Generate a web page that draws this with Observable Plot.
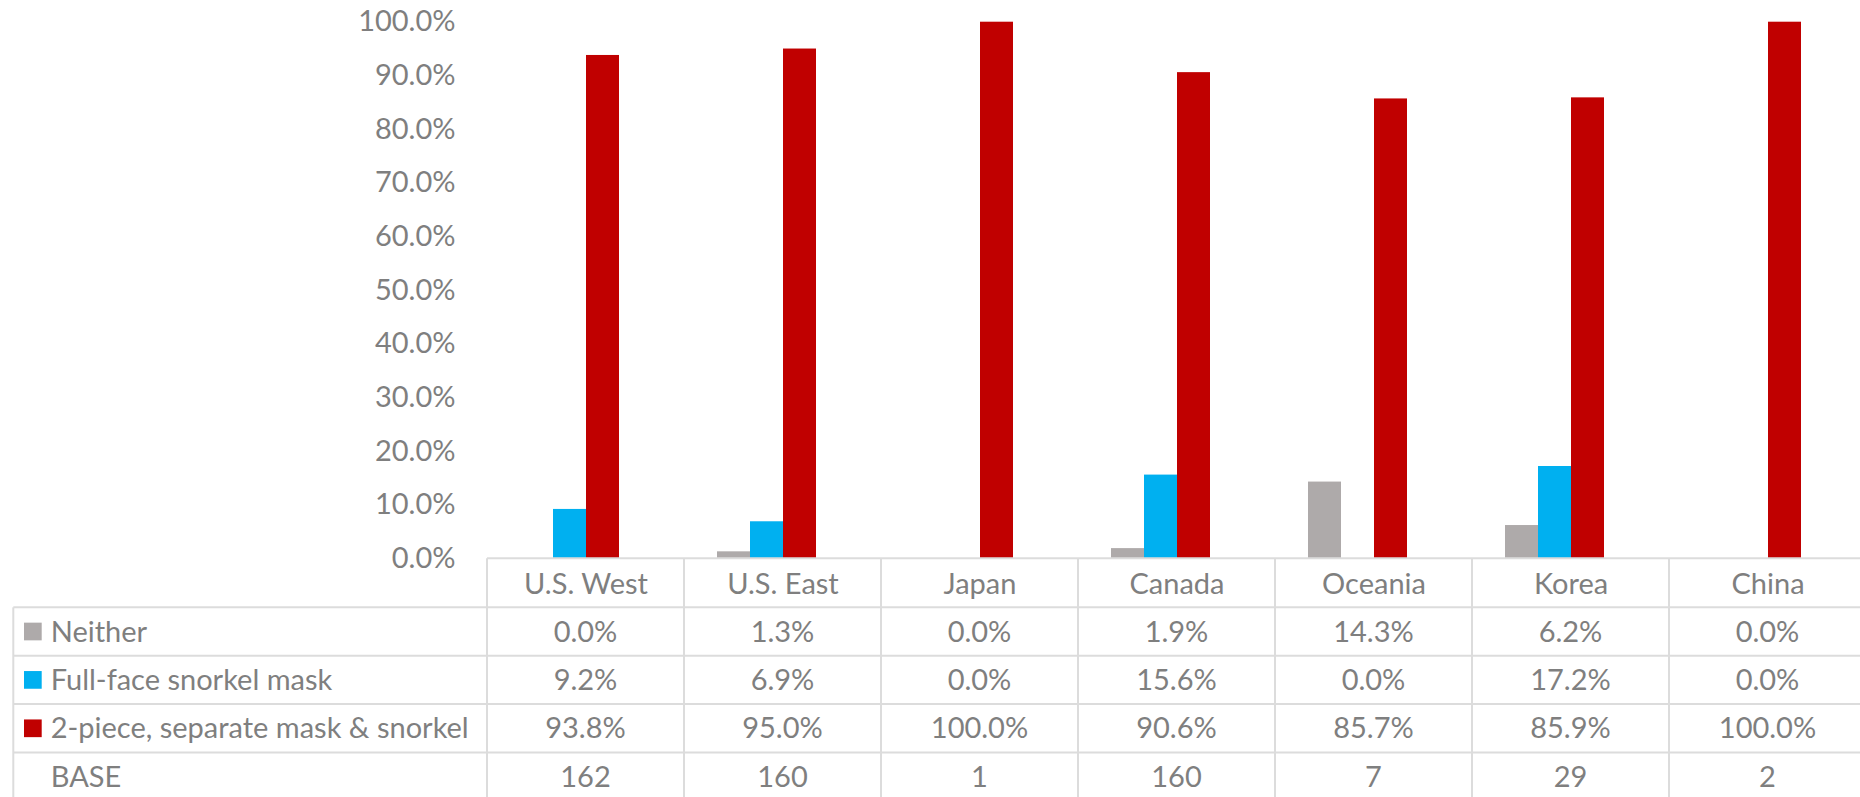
<!DOCTYPE html>
<html><head><meta charset="utf-8">
<script src="https://cdn.jsdelivr.net/npm/d3@7"></script>
<script src="https://cdn.jsdelivr.net/npm/@observablehq/plot@0.6"></script>
<style>
html,body{margin:0;padding:0;background:#fff;overflow:hidden}
#wrap{width:1860px;height:797px;overflow:hidden}
#wrap svg{max-width:none !important}
</style></head><body><div id="wrap"></div>
<script>
const categories = ["U.S. West","U.S. East","Japan","Canada","Oceania","Korea","China"];
const seriesNames = ["Neither","Full-face snorkel mask","2-piece, separate mask & snorkel"];
const neither  = [0.0, 1.3, 0.0, 1.9, 14.3, 6.2, 0.0];
const fullFace = [9.2, 6.9, 0.0, 15.6, 0.0, 17.2, 0.0];
const twoPiece = [93.8, 95.0, 100.0, 90.6, 85.7, 85.9, 100.0];
const base     = [162, 160, 1, 160, 7, 29, 2];
const baseLabel = "BASE";
const seriesColors = ["#aeaaaa", "#00b0f0", "#c00000"];
const yTicks = [0, 10, 20, 30, 40, 50, 60, 70, 80, 90, 100];

const seriesValues = [neither, fullFace, twoPiece];
const data = categories.flatMap((c, i) => seriesNames.map((s, j) => ({cat: c, series: s, value: seriesValues[j][i]})));

const W = 1867, H = 797, mTop = 21.7, mLeft = 486, mBottom = H - 558.3;
const textColor = "#7f7f7f";
const font = "Lato, 'Open Sans', sans-serif";
const fs = 29;

const chart = Plot.plot({
  width: W, height: H,
  marginLeft: mLeft, marginRight: 0, marginTop: mTop, marginBottom: mBottom,
  style: {fontFamily: font, fontSize: fs + "px", color: textColor, background: "#fff", overflow: "visible", maxWidth: "none"},
  fx: {domain: categories, padding: 0, label: null},
  x: {domain: [...seriesNames, baseLabel], paddingInner: 0, paddingOuter: 0.9, axis: null},
  y: {domain: [0, 100], label: null},
  color: {domain: seriesNames, range: seriesColors},
  marks: [
    Plot.barY(data.filter(d => d.value > 0), {fx: "cat", x: "series", y: "value", fill: "series", inset: 0}),
    Plot.axisY({ticks: yTicks, tickFormat: d => d.toFixed(1) + "%", tickSize: 0, tickPadding: 32, label: null, fontSize: fs}),
    Plot.axisFx({anchor: "bottom", tickSize: 0, tickPadding: 15, label: null, fontSize: fs})
  ]
});
document.getElementById("wrap").appendChild(chart);

// Data table drawn from the chart's own scales
const svg = d3.select(chart);
const fx = chart.scale("fx");
const ys = chart.scale("y");
const col = chart.scale("color");
const bw = fx.bandwidth;
const xL = fx.apply(categories[0]);
const xR = fx.apply(categories[categories.length - 1]) + bw;
const yBase = ys.apply(0);
const headerH = 49, rowH = 48.4, left0 = 13.3;
const headerBottom = yBase + headerH;

const rows = [
  ...seriesNames.map((s, j) => ({label: s, color: col.apply(s), vals: seriesValues[j].map(v => v.toFixed(1) + "%")})),
  {label: baseLabel, color: null, vals: base.map(v => String(v))}
];

const g = svg.append("g").attr("stroke", "#dcdcdc").attr("stroke-width", 2).attr("fill", "none");
g.append("line").attr("x1", xL).attr("x2", xR).attr("y1", yBase).attr("y2", yBase);
for (let r = 0; r <= rows.length; r++) {
  const y = headerBottom + r * rowH;
  g.append("line").attr("x1", left0).attr("x2", xR).attr("y1", y).attr("y2", y);
}
categories.forEach(c => {
  const x = fx.apply(c);
  g.append("line").attr("x1", x).attr("x2", x).attr("y1", yBase).attr("y2", H + 20);
});
g.append("line").attr("x1", xR).attr("x2", xR).attr("y1", yBase).attr("y2", H + 20);
g.append("line").attr("x1", left0).attr("x2", left0).attr("y1", headerBottom).attr("y2", H + 20);

const t = svg.append("g").attr("font-family", font).attr("font-size", fs).attr("fill", textColor);
rows.forEach((row, r) => {
  const cy = headerBottom + r * rowH + rowH / 2;
  if (row.color) {
    t.append("rect").attr("x", 24).attr("y", cy - 8.85).attr("width", 17.7).attr("height", 17.7).attr("fill", row.color);
  }
  t.append("text").attr("x", 50.7).attr("y", cy).attr("dy", "0.35em").attr("text-anchor", "start").text(row.label);
  categories.forEach((c, i) => {
    t.append("text").attr("x", fx.apply(c) + bw / 2).attr("y", cy).attr("dy", "0.35em")
      .attr("text-anchor", "middle").text(row.vals[i]);
  });
});
</script>
</body></html>
